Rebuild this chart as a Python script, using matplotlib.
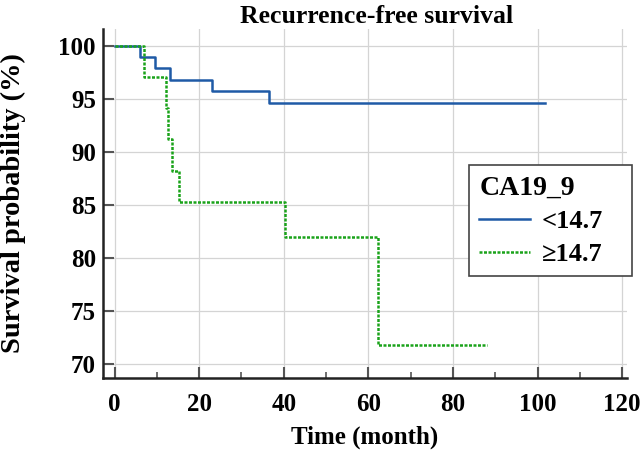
import matplotlib
matplotlib.use("Agg")
import matplotlib.pyplot as plt
from matplotlib.ticker import MultipleLocator

plt.rcParams['font.family'] = ['Liberation Serif', 'DejaVu Serif']

# Kaplan-Meier steps
low_time = [0, 6, 9.5, 13, 23, 36.4, 101.8]
low_surv = [100, 98.9, 97.9, 96.8, 95.7, 94.6, 94.6]
high_time = [0, 7, 12.2, 12.7, 13.6, 15.2, 40.4, 62.3, 88.1]
high_surv = [100, 97.1, 94.1, 91.2, 88.2, 85.3, 82.0, 71.8, 71.8]

legend_title = "CA19_9"
labels = ["<14.7", "≥14.7"]
x_ticks = [0, 20, 40, 60, 80, 100, 120]
y_ticks = [70, 75, 80, 85, 90, 95, 100]

fig = plt.figure(figsize=(6.42, 4.58), dpi=100)
ax = fig.add_axes([0.160, 0.175, 0.817, 0.762])

ax.step(low_time, low_surv, where='post', color='#1f5aa6', lw=1.8, label=labels[0])
ax.step(high_time, high_surv, where='post', color='#1aa31a', lw=1.8,
        linestyle=(0, (1.2, 0.6)), label=labels[1])

ax.set_xlim(-2.8, 121.2)
ax.set_ylim(68.7, 101.6)
ax.set_xticks(x_ticks)
ax.set_yticks(y_ticks)
ax.xaxis.set_minor_locator(MultipleLocator(10))
ax.grid(True, color='#d4d4d4', lw=0.9)
ax.set_axisbelow(True)

for s in ['top', 'right']:
    ax.spines[s].set_visible(False)
for s in ['left', 'bottom']:
    ax.spines[s].set_linewidth(1.8)
    ax.spines[s].set_color('#222222')

ax.tick_params(axis='both', which='major', direction='in', length=8, width=1.5,
               color='#555555', labelsize=18)
ax.tick_params(axis='y', which='major', pad=5)
ax.tick_params(axis='x', which='major', pad=11)
ax.tick_params(axis='x', which='minor', direction='in', length=4, width=1.2, color='#555555')
for lab in ax.get_xticklabels() + ax.get_yticklabels():
    lab.set_fontweight('bold')

ax.set_title("Recurrence-free survival", fontsize=18.5, fontweight='bold', pad=4, x=0.523)
ax.set_xlabel("Time (month)", fontsize=18, fontweight='bold')
ax.set_ylabel("Survival probability (%)", fontsize=20.5, fontweight='bold')
ax.xaxis.set_label_coords(0.5, -0.138)
ax.yaxis.set_label_coords(-0.146, 0.5)

leg = ax.legend(title=legend_title, loc='upper left', bbox_to_anchor=(0.698, 0.28, 0.311, 0.33),
                mode='expand', prop={'size': 19, 'weight': 'bold'},
                title_fontproperties={'size': 20, 'weight': 'bold'},
                fancybox=False, edgecolor='#444444', framealpha=1, handlelength=1.9,
                handletextpad=0.45, borderpad=0.4, labelspacing=0.35, borderaxespad=0)
leg._legend_box.align = 'left'
leg.get_frame().set_linewidth(1.2)

fig.savefig("out.png", dpi=100)
